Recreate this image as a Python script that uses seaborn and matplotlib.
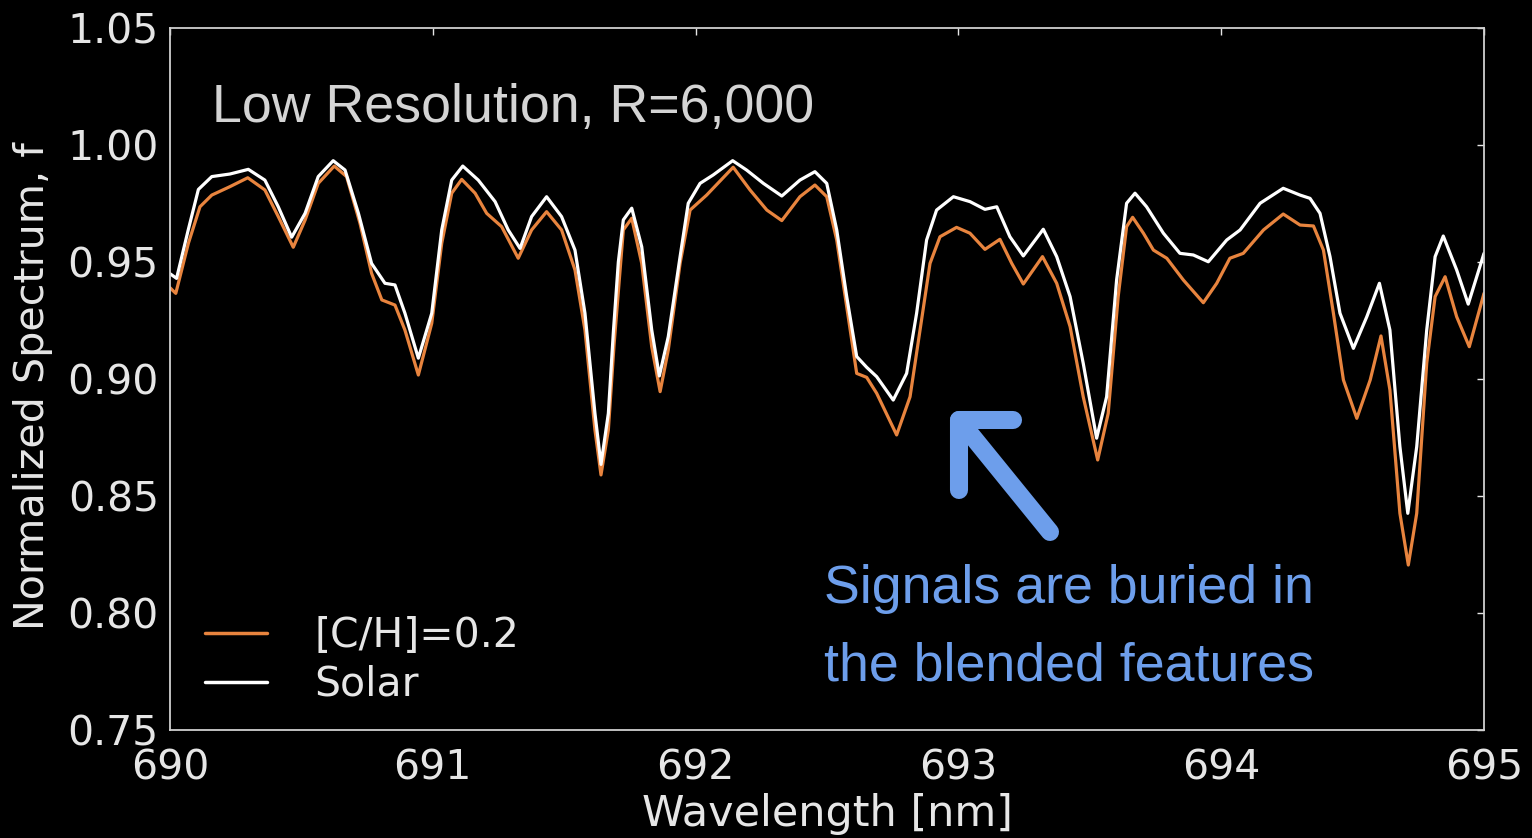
import numpy as np
import pandas as pd
import matplotlib
matplotlib.use("Agg")
import matplotlib.pyplot as plt
import seaborn as sns

# ---------------- data ----------------
solar_wl = [690.000, 690.025, 690.070, 690.108, 690.159, 690.228, 690.298, 690.361, 690.412, 690.463,
            690.514, 690.564, 690.621, 690.666, 690.717, 690.767, 690.818, 690.856, 690.894, 690.945,
            690.996, 691.034, 691.072, 691.114, 691.173, 691.237, 691.287, 691.332, 691.376, 691.433,
            691.490, 691.541, 691.579, 691.617, 691.640, 691.668, 691.687, 691.706, 691.725, 691.757,
            691.795, 691.833, 691.862, 691.896, 691.941, 691.972, 692.017, 692.067, 692.141, 692.194,
            692.258, 692.328, 692.397, 692.454, 692.499, 692.537, 692.575, 692.613, 692.651, 692.689,
            692.752, 692.803, 692.841, 692.879, 692.917, 692.981, 693.044, 693.101, 693.146, 693.196,
            693.247, 693.323, 693.374, 693.425, 693.475, 693.526, 693.564, 693.602, 693.640, 693.672,
            693.716, 693.780, 693.843, 693.894, 693.951, 694.021, 694.072, 694.148, 694.236, 694.300,
            694.338, 694.376, 694.414, 694.452, 694.503, 694.554, 694.602, 694.642, 694.680, 694.710,
            694.744, 694.782, 694.814, 694.845, 694.896, 694.940, 695.000]
solar_f = [0.945, 0.943, 0.964, 0.981, 0.9865, 0.9876, 0.9896, 0.985, 0.9736, 0.9606,
           0.9708, 0.9865, 0.9933, 0.9893, 0.9708, 0.9494, 0.9409, 0.9402, 0.9281, 0.9089,
           0.9281, 0.9637, 0.985, 0.991, 0.985, 0.9758, 0.9637, 0.9558, 0.9694, 0.9779,
           0.9694, 0.9551, 0.9281, 0.8853, 0.8635, 0.8853, 0.920, 0.950, 0.968, 0.973,
           0.9565, 0.921, 0.9013, 0.9181, 0.9523, 0.9751, 0.9836, 0.9872, 0.9933, 0.9893,
           0.9836, 0.9782, 0.985, 0.9886, 0.9836, 0.9637, 0.9352, 0.9096, 0.905, 0.901,
           0.891, 0.9024, 0.9281, 0.9594, 0.9722, 0.9779, 0.9758, 0.9725, 0.9736, 0.9608,
           0.9526, 0.964, 0.9523, 0.9352, 0.9067, 0.8747, 0.8924, 0.9423, 0.9751, 0.9794,
           0.9736, 0.9623, 0.9537, 0.953, 0.9501, 0.9594, 0.9637, 0.9751, 0.9815, 0.9786,
           0.9772, 0.9708, 0.9523, 0.9281, 0.9131, 0.9266, 0.9409, 0.9209, 0.8711, 0.8426,
           0.8711, 0.9209, 0.9523, 0.9611, 0.9466, 0.932, 0.9537]

carbon_wl = [690.000, 690.022, 690.070, 690.114, 690.159, 690.228, 690.296, 690.361, 690.412, 690.469,
             690.514, 690.564, 690.625, 690.672, 690.723, 690.767, 690.806, 690.856, 690.894, 690.945,
             690.996, 691.034, 691.072, 691.110, 691.161, 691.205, 691.262, 691.325, 691.376, 691.433,
             691.490, 691.541, 691.579, 691.617, 691.640, 691.668, 691.690, 691.725, 691.757, 691.795,
             691.833, 691.865, 691.896, 691.941, 691.979, 692.042, 692.143, 692.207, 692.271, 692.328,
             692.397, 692.454, 692.499, 692.537, 692.575, 692.613, 692.651, 692.689, 692.765, 692.816,
             692.854, 692.892, 692.930, 692.993, 693.044, 693.101, 693.158, 693.203, 693.247, 693.320,
             693.374, 693.425, 693.475, 693.530, 693.570, 693.608, 693.640, 693.663, 693.704, 693.742,
             693.793, 693.856, 693.932, 693.983, 694.033, 694.084, 694.161, 694.236, 694.300, 694.351,
             694.389, 694.427, 694.465, 694.516, 694.567, 694.608, 694.642, 694.680, 694.712, 694.744,
             694.782, 694.814, 694.852, 694.896, 694.944, 695.000]
carbon_f = [0.939, 0.9366, 0.958, 0.9736, 0.9786, 0.9822, 0.986, 0.9808, 0.9694, 0.9563,
            0.9679, 0.9836, 0.991, 0.9865, 0.9665, 0.9452, 0.9338, 0.9316, 0.9209, 0.9017,
            0.9238, 0.958, 0.9794, 0.9853, 0.9794, 0.9708, 0.9651, 0.9516, 0.9637, 0.9715,
            0.9637, 0.9466, 0.9209, 0.8782, 0.859, 0.8782, 0.915, 0.9637, 0.9687, 0.9494,
            0.9138, 0.8946, 0.9124, 0.9494, 0.9722, 0.9786, 0.9905, 0.9808, 0.9722, 0.9677,
            0.9779, 0.9829, 0.9779, 0.9594, 0.9309, 0.9024, 0.9007, 0.8939, 0.8761, 0.8924,
            0.9209, 0.9494, 0.9608, 0.9648, 0.9623, 0.9554, 0.9597, 0.9494, 0.9406, 0.9523,
            0.9409, 0.9224, 0.8924, 0.8654, 0.8853, 0.9352, 0.9651, 0.9691, 0.9623, 0.9551,
            0.9516, 0.9423, 0.9326, 0.9409, 0.9516, 0.9537, 0.9637, 0.9705, 0.9658, 0.9654,
            0.9551, 0.9281, 0.8996, 0.8832, 0.8996, 0.9184, 0.8953, 0.8426, 0.8205, 0.8426,
            0.9067, 0.9352, 0.9437, 0.9266, 0.9138, 0.9366]

series_labels = ["[C/H]=0.2", "Solar"]
x_ticks = [690, 691, 692, 693, 694, 695]
y_ticks = [0.75, 0.80, 0.85, 0.90, 0.95, 1.00, 1.05]

# ---------------- styling ----------------
sns.set_style("dark")
plt.rcParams["font.family"] = ["DejaVu Sans"]
plt.rcParams["figure.facecolor"] = "black"
plt.rcParams["axes.facecolor"] = "black"

ORANGE = "#e8843e"
WHITE = "#ffffff"
FG = "#e6e6e6"
BLUE = "#6d9eeb"

fig = plt.figure(figsize=(15.32, 8.38), dpi=100)
ax = fig.add_axes([170 / 1532, 108 / 838, 1314 / 1532, 702 / 838])
ax.set_facecolor("black")

df = pd.concat([
    pd.DataFrame({"wl": carbon_wl, "f": carbon_f, "model": series_labels[0]}),
    pd.DataFrame({"wl": solar_wl, "f": solar_f, "model": series_labels[1]}),
])
sns.lineplot(data=df, x="wl", y="f", hue="model", hue_order=series_labels,
             palette=[ORANGE, WHITE], sort=False, estimator=None, lw=2.3, ax=ax)

ax.set_xlim(690, 695)
ax.set_ylim(0.75, 1.05)
ax.set_xticks(x_ticks)
ax.set_yticks(y_ticks)
ax.set_xticklabels([str(t) for t in x_ticks])
ax.set_yticklabels([f"{t:.2f}" for t in y_ticks])
ax.grid(False)
ax.tick_params(direction="in", length=5, width=1, colors=FG, labelcolor=FG,
               labelsize=29.5, top=True, right=True, pad=8)
ax.tick_params(axis="x", pad=13)
for s in ax.spines.values():
    s.set_visible(True)
    s.set_color("#d0d0d0")
    s.set_linewidth(1.3)

ax.set_xlabel("Wavelength [nm]", fontsize=31, color=FG, labelpad=0)
ax.xaxis.set_label_coords(0.5, -0.0897)
ax.set_ylabel("Normalized Spectrum, f", fontsize=29.7, color=FG)
ax.yaxis.set_label_coords(-0.089, 0.49)

leg = ax.legend(loc="lower left", bbox_to_anchor=(0.0145, 0.0123), frameon=False,
                fontsize=29.5, handlelength=1.5, handletextpad=1.15,
                labelspacing=0.22, borderaxespad=0.0)
for t in leg.get_texts():
    t.set_color(FG)
for h in leg.get_lines():
    h.set_linewidth(2.5)

ax.text(0.0320, (838 - 122 - 108) / 702, "Low Resolution, R=6,000",
        transform=ax.transAxes, family="Liberation Sans", fontsize=38.7,
        color="#d4d4d4", va="baseline", ha="left")

# arrow annotation (chevron head + shaft)
ax.plot([0.6416, 0.6005, 0.6005], [0.4416, 0.4416, 0.3419], transform=ax.transAxes,
        color=BLUE, lw=13, solid_capstyle="round", solid_joinstyle="round", clip_on=False)
ax.plot([0.6005, 0.6697], [0.4416, 0.2821], transform=ax.transAxes,
        color=BLUE, lw=13, solid_capstyle="round", clip_on=False)

fig.text(824 / 1532, (838 - 603) / 838, "Signals are buried in", family="Liberation Sans",
         fontsize=38.7, color=BLUE, va="baseline", ha="left")
fig.text(824 / 1532, (838 - 680) / 838, "the blended features", family="Liberation Sans",
         fontsize=38.7, color=BLUE, va="baseline", ha="left")

fig.savefig("out.png", dpi=100, facecolor="black")
